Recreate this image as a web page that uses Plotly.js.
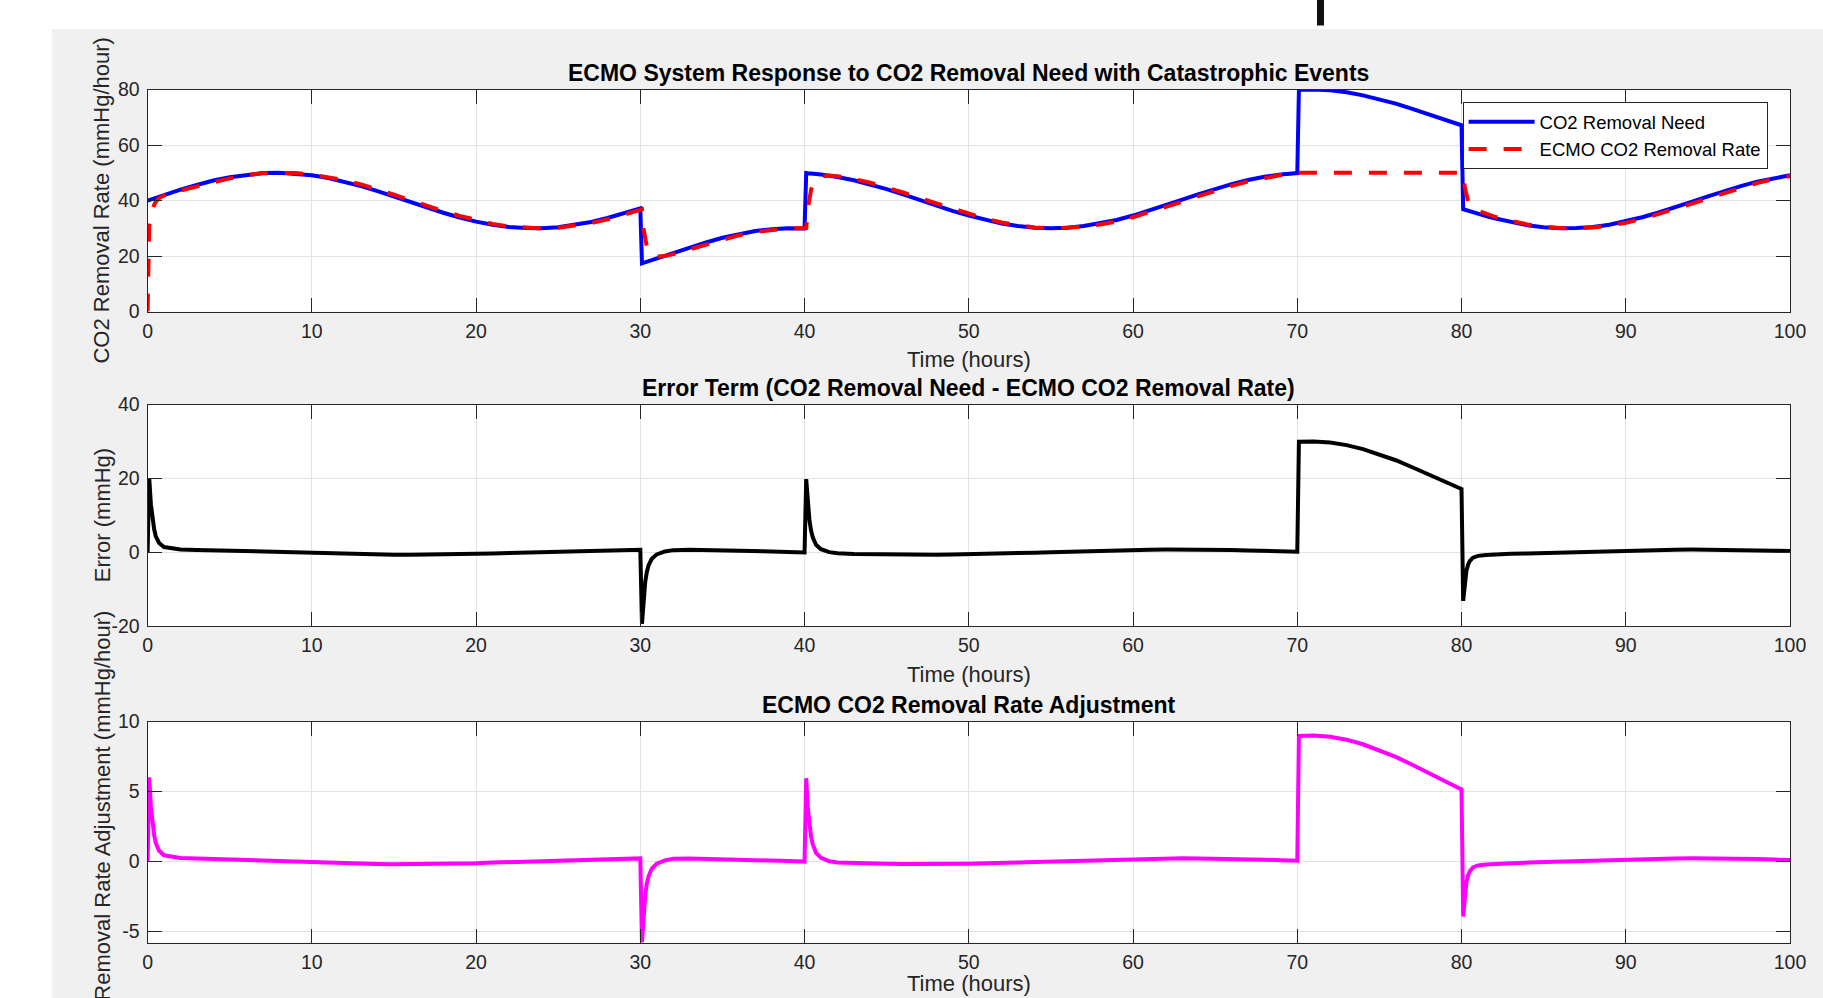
<!DOCTYPE html>
<html>
<head>
<meta charset="utf-8">
<script src="https://cdn.plot.ly/plotly-3.0.1.min.js"></script>
<style>
  html, body { margin: 0; padding: 0; background: #ffffff; }
  #chart { width: 1823px; height: 998px; }
</style>
</head>
<body>
<div id="chart"></div>
<script>
// ---------------- DATA ----------------
const timeHours = [
  0, 0.1, 0.2, 0.3, 0.4, 0.5, 0.7, 1, 1.5, 2,
  3, 4, 5, 6, 7, 8, 9, 10, 11, 12, 13, 14, 15, 16, 17, 18, 19, 20,
  21, 22, 23, 24, 25, 26, 27, 28, 29, 30,
  30.1, 30.2, 30.3, 30.4, 30.5, 30.7, 31, 31.5, 32,
  33, 34, 35, 36, 37, 38, 39, 40,
  40.1, 40.2, 40.3, 40.4, 40.5, 40.7, 41, 41.5, 42,
  43, 44, 45, 46, 47, 48, 49, 50, 51, 52, 53, 54, 55, 56, 57, 58, 59, 60,
  61, 62, 63, 64, 65, 66, 67, 68, 69, 70,
  70.1, 70.5, 71, 72, 73, 74, 75, 76, 77, 78, 79, 80,
  80.1, 80.2, 80.3, 80.4, 80.5, 80.7, 81, 81.5, 82,
  83, 84, 85, 86, 87, 88, 89, 90, 91, 92, 93, 94, 95, 96, 97, 98, 99, 100
];

const co2RemovalNeed = [
  40.0, 40.2, 40.4, 40.6, 40.8, 41.0, 41.4, 42.0, 43.0, 43.9,
  45.6, 47.2, 48.4, 49.3, 49.9, 50.0, 49.7, 49.1, 48.1, 46.8, 45.2, 43.4, 41.4, 39.4, 37.4, 35.6, 33.9, 32.4,
  31.3, 30.5, 30.1, 30.0, 30.4, 31.2, 32.3, 33.7, 35.4, 37.2,
  17.4, 17.6, 17.8, 18.0, 18.2, 18.6, 19.2, 20.2, 21.2,
  23.1, 24.9, 26.6, 27.9, 29.0, 29.7, 30.0, 29.9,
  49.9, 49.8, 49.8, 49.7, 49.7, 49.6, 49.4, 49.0, 48.5,
  47.3, 45.8, 44.1, 42.2, 40.2, 38.3, 36.3, 34.6, 33.0, 31.7, 30.8, 30.2, 30.0, 30.2, 30.8, 31.8, 33.0, 34.6,
  36.4, 38.3, 40.3, 42.3, 44.2, 45.9, 47.4, 48.6, 49.4, 49.9,
  79.9, 80.0, 80.0, 79.7, 79.0, 77.9, 76.5, 74.9, 73.0, 71.1, 69.1, 67.1,
  36.9, 36.7, 36.6, 36.4, 36.2, 35.8, 35.3, 34.4, 33.6,
  32.2, 31.1, 30.4, 30.0, 30.1, 30.5, 31.3, 32.5, 34.0, 35.7, 37.5, 39.5, 41.5, 43.4, 45.2, 46.8, 48.1, 49.1
];

const ecmoRemovalRate = [
  0.0, 31.0, 34.5, 37.0, 38.5, 39.6, 40.9, 41.8, 42.9, 43.6,
  45.0, 46.7, 48.0, 49.1, 49.8, 50.0, 49.9, 49.4, 48.5, 47.3, 45.8, 44.1, 42.1, 40.1, 38.1, 36.2, 34.5, 32.9,
  31.6, 30.7, 30.2, 29.9, 30.2, 30.9, 31.9, 33.2, 34.8, 36.5,
  36.8, 29.6, 25.8, 23.3, 21.8, 20.4, 19.8, 20.0, 20.7,
  22.4, 24.3, 26.1, 27.5, 28.7, 29.5, 30.0, 30.0,
  30.1, 37.3, 41.3, 43.9, 45.7, 47.6, 48.6, 49.0, 48.8,
  47.8, 46.4, 44.7, 42.9, 40.9, 39.0, 37.0, 35.2, 33.5, 32.1, 31.1, 30.3, 30.0, 30.1, 30.5, 31.4, 32.5, 34.0,
  35.8, 37.6, 39.6, 41.6, 43.6, 45.3, 46.9, 48.2, 49.2, 49.8,
  50, 50, 50, 50, 50, 50, 50, 50, 50, 50, 50, 50,
  50.0, 44.7, 41.6, 39.8, 38.6, 37.3, 36.3, 35.2, 34.2,
  32.7, 31.4, 30.6, 30.1, 30.0, 30.3, 31.0, 32.0, 33.4, 35.1, 36.8, 38.8, 40.8, 42.7, 44.6, 46.3, 47.7, 48.8
];

const errorTerm = [
  0, 20.0, 13.0, 9.0, 6.2, 4.3, 2.5, 1.4, 0.95, 0.75,
  0.62, 0.5, 0.38, 0.25, 0.12, -0.02, -0.16, -0.29, -0.41, -0.52, -0.6, -0.66, -0.69, -0.7, -0.68, -0.63, -0.55, -0.46,
  -0.34, -0.21, -0.08, 0.06, 0.2, 0.33, 0.44, 0.54, 0.62, 0.67,
  -19.4, -12.0, -8.0, -5.3, -3.6, -1.8, -0.6, 0.2, 0.55,
  0.66, 0.61, 0.53, 0.43, 0.31, 0.18, 0.04, -0.1,
  19.8, 12.5, 8.5, 5.8, 4.0, 2.0, 0.8, 0.0, -0.3,
  -0.48, -0.57, -0.64, -0.68, -0.7, -0.69, -0.65, -0.59, -0.5, -0.39, -0.27, -0.14, 0.0, 0.14, 0.28, 0.4, 0.5, 0.59,
  0.65, 0.69, 0.7, 0.68, 0.64, 0.56, 0.47, 0.36, 0.23, 0.1,
  29.9, 30.0, 30.0, 29.7, 29.0, 27.9, 26.5, 24.9, 23.0, 21.1, 19.1, 17.1,
  -13.2, -8.0, -5.0, -3.4, -2.4, -1.5, -1.0, -0.75, -0.6,
  -0.45, -0.33, -0.2, -0.06, 0.08, 0.22, 0.35, 0.46, 0.56, 0.63, 0.68, 0.7, 0.69, 0.66, 0.6, 0.51, 0.41, 0.29
];

const rateAdjustment = [
  0, 6.0, 3.9, 2.7, 1.86, 1.29, 0.75, 0.42, 0.29, 0.23,
  0.19, 0.15, 0.11, 0.08, 0.04, -0.01, -0.05, -0.09, -0.12, -0.16, -0.18, -0.2, -0.21, -0.21, -0.2, -0.19, -0.17, -0.14,
  -0.1, -0.06, -0.02, 0.02, 0.06, 0.1, 0.13, 0.16, 0.19, 0.2,
  -5.82, -3.6, -2.4, -1.59, -1.08, -0.54, -0.18, 0.06, 0.17,
  0.2, 0.18, 0.16, 0.13, 0.09, 0.05, 0.01, -0.03,
  5.94, 3.75, 2.55, 1.74, 1.2, 0.6, 0.24, 0.0, -0.09,
  -0.14, -0.17, -0.19, -0.2, -0.21, -0.21, -0.2, -0.18, -0.15, -0.12, -0.08, -0.04, 0.0, 0.04, 0.08, 0.12, 0.15, 0.18,
  0.2, 0.21, 0.21, 0.2, 0.19, 0.17, 0.14, 0.11, 0.07, 0.03,
  8.97, 9.0, 9.0, 8.91, 8.7, 8.37, 7.95, 7.47, 6.9, 6.33, 5.73, 5.13,
  -3.96, -2.4, -1.5, -1.02, -0.72, -0.45, -0.3, -0.23, -0.18,
  -0.14, -0.1, -0.06, -0.02, 0.02, 0.07, 0.1, 0.14, 0.17, 0.19, 0.2, 0.21, 0.21, 0.2, 0.18, 0.15, 0.12, 0.09
];

const xTickValues = [0, 10, 20, 30, 40, 50, 60, 70, 80, 90, 100];
const topYTicks = [0, 20, 40, 60, 80];
const midYTicks = [-20, 0, 20, 40];
const botYTicks = [-5, 0, 5, 10];

const seriesNames = ['CO2 Removal Need', 'ECMO CO2 Removal Rate'];
const titles = {
  top: 'ECMO System Response to CO2 Removal Need with Catastrophic Events',
  mid: 'Error Term (CO2 Removal Need - ECMO CO2 Removal Rate)',
  bot: 'ECMO CO2 Removal Rate Adjustment',
  xLabel: 'Time (hours)',
  yTop: 'CO2 Removal Rate (mmHg/hour)',
  yMid: 'Error (mmHg)',
  yBot: 'CO2 Removal Rate Adjustment (mmHg/hour)'
};

// ---------------- LAYOUT / STYLE ----------------
const W = 1823, H = 998;
const px = v => v / W;
const py = v => 1 - v / H;
const FONT = '"Liberation Sans", Arial, Helvetica, sans-serif';
const AXC = '#262626';
const GRID = '#e3e3e3';

const plotLeft = 147.6, plotRight = 1790;
const rows = {
  top: [89.5, 311.6],
  mid: [404.5, 626],
  bot: [721.5, 942.5]
};

function xAxis(anchor) {
  return {
    domain: [px(plotLeft), px(plotRight)],
    anchor: anchor,
    range: [0, 100],
    tickmode: 'array',
    tickvals: xTickValues,
    ticktext: xTickValues.map(String),
    ticks: 'inside', ticklen: 14, tickwidth: 1, tickcolor: AXC,
    showline: true, linecolor: AXC, linewidth: 1, mirror: 'allticks',
    showgrid: true, gridcolor: GRID, gridwidth: 1,
    zeroline: false,
    ticklabelstandoff: 2,
    tickfont: { family: FONT, size: 19.5, color: AXC },
    fixedrange: true
  };
}
function yAxis(anchor, row, range, ticks) {
  return {
    domain: [py(row[1]), py(row[0])],
    anchor: anchor,
    range: range,
    tickmode: 'array',
    tickvals: ticks,
    ticktext: ticks.map(String),
    ticks: 'inside', ticklen: 14, tickwidth: 1, tickcolor: AXC,
    showline: true, linecolor: AXC, linewidth: 1, mirror: 'allticks',
    showgrid: true, gridcolor: GRID, gridwidth: 1,
    zeroline: false,
    ticklabelstandoff: 3,
    tickfont: { family: FONT, size: 19.5, color: AXC },
    fixedrange: true
  };
}

const traces = [
  { x: timeHours, y: co2RemovalNeed, xaxis: 'x', yaxis: 'y', type: 'scatter', mode: 'lines',
    name: seriesNames[0], line: { color: '#0000ff', width: 4 } },
  { x: timeHours, y: ecmoRemovalRate, xaxis: 'x', yaxis: 'y', type: 'scatter', mode: 'lines',
    name: seriesNames[1], line: { color: '#ff0000', width: 4, dash: '18px,17px' } },
  { x: timeHours, y: errorTerm, xaxis: 'x2', yaxis: 'y2', type: 'scatter', mode: 'lines',
    showlegend: false, line: { color: '#000000', width: 4 } },
  { x: timeHours, y: rateAdjustment, xaxis: 'x3', yaxis: 'y3', type: 'scatter', mode: 'lines',
    showlegend: false, line: { color: '#ff00ff', width: 4 } }
];

const mid = r => (r[0] + r[1]) / 2;
const xc = (plotLeft + plotRight) / 2;
function ann(text, xPix, yPix, opts) {
  return Object.assign({
    text: text, xref: 'paper', yref: 'paper', x: px(xPix), y: py(yPix),
    xanchor: 'center', yanchor: 'middle', showarrow: false,
    font: { family: FONT, size: 22, color: AXC }
  }, opts || {});
}
const titleFont = { family: FONT, size: 23, color: '#000000', weight: 'bold' };

const annotations = [
  ann('<b>' + titles.top + '</b>', xc, rows.top[0] - 16.5, { font: titleFont }),
  ann('<b>' + titles.mid + '</b>', xc, rows.mid[0] - 16.5, { font: titleFont }),
  ann('<b>' + titles.bot + '</b>', xc, rows.bot[0] - 16.5, { font: titleFont }),
  ann(titles.xLabel, xc, rows.top[1] + 48),
  ann(titles.xLabel, xc, rows.mid[1] + 48),
  ann(titles.xLabel, xc, H, { yanchor: 'bottom', y: 0 }),
  ann(titles.yTop, 102, mid(rows.top), { textangle: -90 }),
  ann(titles.yMid, 102, mid(rows.mid), { textangle: -90 }),
  ann(titles.yBot, 102, mid(rows.bot), { textangle: -90 })
];

const shapes = [
  // white strip at top and left of the grey figure area (screenshot border)
  { type: 'rect', xref: 'paper', yref: 'paper', x0: 0, x1: 1, y0: py(29), y1: 1,
    fillcolor: '#ffffff', line: { width: 0 }, layer: 'above' },
  { type: 'rect', xref: 'paper', yref: 'paper', x0: 0, x1: px(52), y0: 0, y1: 1,
    fillcolor: '#ffffff', line: { width: 0 }, layer: 'above' },
  // small dark fragment at the top edge
  { type: 'rect', xref: 'paper', yref: 'paper', x0: px(1317), x1: px(1324), y0: py(25.5), y1: 1,
    fillcolor: '#111111', line: { width: 0 }, layer: 'above' }
];

const layout = {
  width: W, height: H,
  margin: { l: 0, r: 0, t: 0, b: 0, pad: 0 },
  paper_bgcolor: '#f0f0f0',
  plot_bgcolor: '#ffffff',
  font: { family: FONT, color: AXC },
  showlegend: true,
  legend: {
    x: px(1462.6), y: py(102.3), xanchor: 'left', yanchor: 'top',
    bgcolor: '#ffffff', bordercolor: AXC, borderwidth: 1,
    font: { family: FONT, size: 18.5, color: '#000000' },
    itemwidth: 66, tracegroupgap: 0
  },
  xaxis: xAxis('y'),
  yaxis: yAxis('x', rows.top, [0, 80], topYTicks),
  xaxis2: xAxis('y2'),
  yaxis2: yAxis('x2', rows.mid, [-20, 40], midYTicks),
  xaxis3: xAxis('y3'),
  yaxis3: yAxis('x3', rows.bot, [-5.82, 10], botYTicks),
  annotations: annotations,
  shapes: shapes
};

Plotly.newPlot('chart', traces, layout, { staticPlot: true, displayModeBar: false });
</script>
</body>
</html>
